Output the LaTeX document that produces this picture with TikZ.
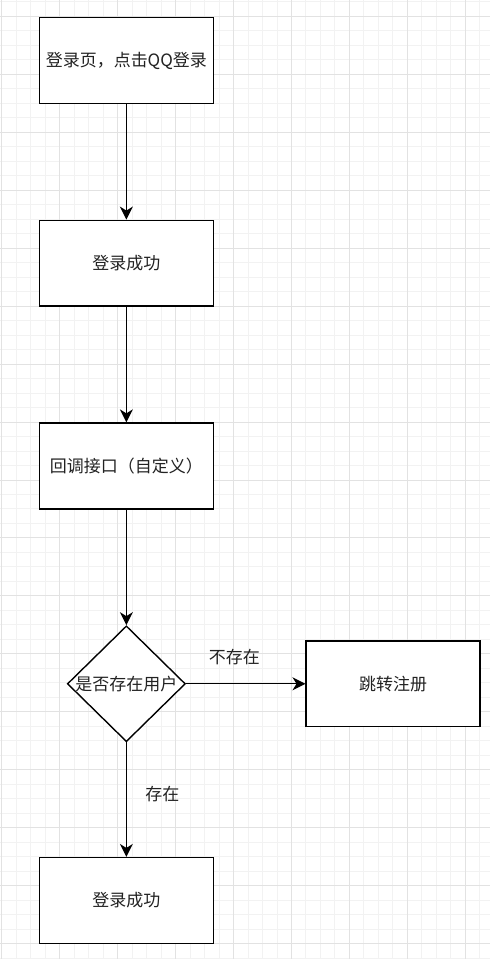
\documentclass[tikz,border=0pt]{standalone}
\usepackage{fontspec}
\setmainfont{Noto Sans CJK SC}
\usetikzlibrary{arrows.meta,positioning,shapes.geometric}
\definecolor{gridminor}{HTML}{F2F2F2}
\definecolor{gridmajor}{HTML}{E2E2E2}
\definecolor{inktext}{HTML}{222222}

\begin{document}
\begin{tikzpicture}[x=1pt, y=-1pt,
  box/.style={draw, line width=1.4pt, fill=white, minimum width=174pt, minimum height=86pt, inner sep=0pt, text=inktext, font=\fontsize{17pt}{20pt}\selectfont},
  decision/.style={draw, diamond, line width=1.4pt, fill=white, minimum width=118pt, minimum height=116pt, inner sep=0pt, aspect=1.02, text=inktext, font=\fontsize{17pt}{20pt}\selectfont},
  flow/.style={line width=1.4pt, -{Stealth[length=13pt, width=13pt, inset=4pt]}},
  tag/.style={text=inktext, font=\fontsize{17pt}{20pt}\selectfont}]
  % canvas and grid
  \fill[white] (0,0) rectangle (490,959);
  \foreach \i in {0,...,33}
    \draw[gridminor, line width=1pt] ({1.3+14.5*\i},0) -- ({1.3+14.5*\i},959);
  \foreach \j in {0,...,66}
    \draw[gridminor, line width=1pt] (0,{1.5+14.5*\j}) -- (490,{1.5+14.5*\j});
  \foreach \i in {0,...,8}
    \draw[gridmajor, line width=1pt] ({1.3+58*\i},0) -- ({1.3+58*\i},959);
  \foreach \j in {0,...,16}
    \draw[gridmajor, line width=1pt] (0,{16+58*\j}) -- (490,{16+58*\j});

  % steps
  \node[box] (login) at (126,60) {登录页，点击QQ登录};
  \node[box] (ok1) at (126,263) {登录成功};
  \node[box] (callback) at (126,466) {回调接口（自定义）};
  \node[decision] (hasuser) at (126,684) {是否存在用户};
  \node[box] (register) at (393,684) {跳转注册};
  \node[box] (ok2) at (126,901) {登录成功};

  % connectors
  \draw[flow] (login) -- (ok1);
  \draw[flow] (ok1) -- (callback);
  \draw[flow] (callback) -- (hasuser);
  \draw[flow] (hasuser) -- (register);
  \draw[flow] (hasuser) -- (ok2);
  \node[tag] (nouser) at (234,657) {不存在};
  \node[tag] (yesuser) at (162,794) {存在};
\end{tikzpicture}
\end{document}
